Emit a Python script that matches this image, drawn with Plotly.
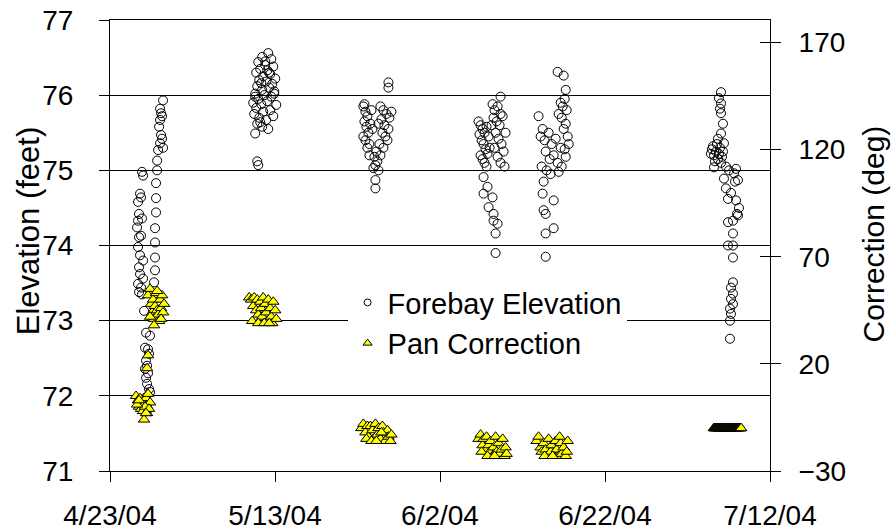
import pandas as pd
import plotly.graph_objects as go

# time axis: elapsed days since the start of the record
START = pd.Timestamp("2004-04-23")
tick_dates = ["2004-04-23", "2004-05-13", "2004-06-02", "2004-06-22", "2004-07-12"]
tick_text = ["4/23/04", "5/13/04", "6/2/04", "6/22/04", "7/12/04"]
pan_ticks = [-30, 20, 70, 120, 170]

# Forebay elevation (feet), one pair of lists per survey
fb1_day = [3.88, 4.01, 3.64, 3.76, 3.40, 3.52, 3.88, 3.40, 3.28, 3.76, 3.52, 3.40, 3.64, 4.01, 3.52, 3.64, 4.01, 3.40, 3.76, 3.52, 3.88,
           4.13, 4.37, 4.85, 4.25, 4.61, 4.73, 4.37, 4.49, 4.25, 4.61, 4.37, 4.49, 4.73, 4.37, 4.49, 4.61, 4.25, 4.85,
           6.43, 6.07, 6.19, 6.31, 6.07, 5.95, 6.19, 6.31, 6.07, 6.43, 5.83, 5.71, 5.71, 5.58, 5.58, 5.58, 5.46, 5.46, 5.46, 5.46, 5.34]
fb1_ft = [74.98, 74.93, 74.69, 74.64, 74.58, 74.42, 74.36, 74.33, 74.24, 74.13, 74.11, 73.98, 73.87, 73.80, 73.71, 73.62, 73.56, 73.49, 73.44, 73.38, 73.35,
          73.13, 72.84, 72.80, 72.64, 72.62, 72.56, 72.47, 72.40, 72.36, 72.30, 72.24, 72.16, 72.09, 71.98, 71.89, 71.82, 71.95, 72.05,
          75.93, 75.82, 75.76, 75.72, 75.67, 75.58, 75.47, 75.42, 75.36, 75.30, 75.27, 75.13, 75.00, 74.83, 74.63, 74.44, 74.23, 74.04, 73.84, 73.67, 73.51]

fb2_day = [19.18, 18.45, 19.55, 17.97, 18.82, 19.79, 18.21, 19.06, 17.72, 19.42, 18.57, 20.03, 18.09, 18.94, 19.67, 17.85,
           19.30, 18.45, 19.91, 17.60, 18.70, 19.55, 17.97, 19.06, 17.36, 18.33, 20.15, 17.72, 19.42, 18.57, 17.48, 19.79,
           18.09, 18.94, 17.85, 18.45, 19.18, 17.60, 18.21, 19.91, 18.82, 19.30, 18.33, 17.60, 17.85, 17.97]
fb2_ft = [76.56, 76.51, 76.48, 76.44, 76.40, 76.38, 76.35, 76.33, 76.30, 76.28, 76.25, 76.22, 76.20, 76.18, 76.15, 76.12,
          76.10, 76.07, 76.05, 76.02, 76.00, 75.98, 75.95, 75.92, 75.90, 75.88, 75.87, 75.83, 75.80, 75.78, 75.75, 75.72,
          75.70, 75.67, 75.62, 75.58, 75.55, 75.49, 75.64, 76.02, 76.45, 76.30, 76.16, 75.98, 75.12, 75.07]

fb3_day = [33.75, 33.75, 30.71, 30.96, 31.20, 30.84, 31.08, 31.32, 30.71, 30.96, 31.44, 31.20, 31.56, 31.69, 30.84, 32.78,
           33.14, 33.51, 32.90, 33.26, 33.75, 33.02, 33.38, 33.87, 34.11, 33.63, 32.66, 33.14, 32.29, 32.05, 32.41, 32.17,
           31.93, 32.54, 32.17, 32.17, 31.81, 32.54, 31.44, 32.78]
fb3_ft = [76.17, 76.10, 75.85, 75.78, 75.72, 75.65, 75.58, 75.50, 75.45, 75.40, 75.35, 75.30, 75.62, 75.80, 75.88, 75.85,
          75.80, 75.75, 75.68, 75.60, 75.55, 75.50, 75.45, 75.70, 75.78, 75.40, 75.35, 75.30, 75.25, 75.18, 75.12, 75.07,
          75.03, 75.00, 74.87, 74.76, 75.55, 75.62, 75.20, 75.20]

fb4_day = [47.34, 44.67, 44.92, 45.16, 44.79, 45.40, 45.64, 45.04, 45.28, 45.52, 45.89, 44.92, 45.16, 45.76, 46.01, 45.40,
           45.64, 46.37, 46.61, 46.98, 47.34, 46.49, 46.86, 47.22, 47.59, 46.74, 47.10, 47.46, 47.71, 46.98, 47.34, 47.83,
           46.25, 46.61, 47.95, 45.28, 45.76, 45.28, 46.37, 45.89, 46.49, 46.49, 46.98, 46.74, 46.74]
fb4_ft = [75.98, 75.65, 75.60, 75.55, 75.48, 75.50, 75.58, 75.40, 75.35, 75.28, 75.45, 75.20, 75.15, 75.22, 75.30, 75.10,
          75.05, 75.88, 75.80, 75.85, 75.75, 75.70, 75.65, 75.60, 75.72, 75.50, 75.42, 75.35, 75.25, 75.18, 75.10, 75.05,
          75.60, 75.30, 75.50, 74.91, 74.78, 74.69, 74.64, 74.51, 74.42, 74.33, 74.29, 74.16, 73.90]

fb5_day = [54.26, 54.99, 55.24, 55.11, 54.63, 54.87, 55.36, 54.38, 54.75, 55.24, 51.95, 52.44, 52.20, 52.68, 53.17, 53.53,
           54.02, 54.63, 54.99, 55.48, 52.81, 53.29, 53.78, 54.26, 54.75, 55.24, 52.32, 52.93, 53.41, 54.38, 55.11, 55.60,
           52.56, 52.44, 53.78, 52.56, 52.81, 53.78, 52.81, 52.81]
fb5_ft = [76.31, 76.26, 76.07, 75.95, 75.90, 75.85, 75.80, 75.75, 75.70, 75.62, 75.72, 75.55, 75.45, 75.40, 75.50, 75.35,
          75.42, 75.30, 75.55, 75.45, 75.25, 75.15, 75.20, 75.10, 75.05, 75.18, 75.05, 75.00, 74.95, 74.98, 75.28, 75.35,
          74.85, 74.69, 74.60, 74.47, 74.42, 74.23, 74.16, 73.85]

fb6_day = [74.06, 73.81, 74.06, 73.94, 74.06, 74.30, 74.06, 73.69, 74.42, 73.21, 75.88, 75.64, 74.42, 76.12, 74.66, 74.91,
           75.88, 76.12, 75.51, 74.91, 75.51, 74.91, 75.51, 75.51, 75.51, 75.27, 75.51, 75.27, 75.51, 75.15, 75.27, 75.15, 75.15,
           72.96, 73.21, 73.45, 73.69, 73.94, 74.18, 72.84, 73.33, 73.57, 74.06, 74.30, 73.09, 73.81,
           74.66, 75.03, 75.76, 75.27, 76.24, 76.00]
fb6_ft = [76.04, 75.96, 75.89, 75.82, 75.76, 75.62, 75.49, 75.42, 75.36, 75.04, 75.02, 74.96, 74.89, 74.87, 74.76, 74.62,
          74.60, 74.40, 74.33, 74.31, 74.16, 74.00, 74.00, 73.84, 73.51, 73.44, 73.36, 73.29, 73.22, 73.16, 73.09, 73.00, 72.76,
          75.28, 75.20, 75.25, 75.15, 75.30, 75.18, 75.22, 75.12, 75.35, 75.10, 75.25, 75.32, 75.22,
          75.05, 75.00, 74.85, 74.70, 74.50, 74.42]

# Pan correction (deg)
pan1_day = [4.61, 4.86, 4.98, 5.10, 5.22, 5.34, 5.46, 5.58, 5.71, 5.83, 5.95, 6.07, 6.19, 6.31, 6.43, 6.56, 4.86, 6.19, 5.34, 5.71,
            4.61, 4.49, 3.16, 3.40, 3.64, 3.88, 3.52, 3.76, 4.13, 4.37, 4.61, 4.86, 4.01, 4.25, 4.49, 3.28, 4.73, 4.13, 4.37, 3.52]
pan1_deg = [52, 55, 48, 44, 50, 41, 47, 53, 45, 43, 40, 50, 46, 52, 44, 48, 42, 41, 38, 54,
            24, 18, 5, 3, 4, 2, 0, -1, 1, 4, 6, 2, -2, 0, -3, 1, -1, -6, -3, 3]

pan2_day = [16.87, 17.11, 17.36, 17.48, 17.72, 17.85, 17.97, 18.21, 18.33, 18.45, 18.57, 18.82, 18.94, 19.06, 19.18, 19.42,
            19.55, 19.67, 19.79, 20.03, 20.15, 17.24, 17.97, 18.70, 19.30]
pan2_deg = [51, 50, 47, 51, 45, 50, 43, 49, 46, 42, 51, 48, 44, 40, 50, 46, 42, 39, 49, 45, 41, 40, 39, 39, 39]

pan3_day = [30.47, 30.71, 30.96, 31.20, 31.32, 31.56, 31.81, 31.93, 32.17, 32.41, 32.54, 32.78, 33.02, 33.14, 33.38, 33.63,
            33.75, 33.99, 34.11, 31.08, 31.69, 32.29, 32.90]
pan3_deg = [-10, -8, -12, -9, -14, -9, -11, -15, -8, -13, -10, -15, -9, -12, -16, -11, -14, -16, -13, -15, -16, -16, -12]

pan4_day = [44.67, 44.92, 45.16, 45.28, 45.52, 45.64, 45.89, 46.01, 46.13, 46.37, 46.49, 46.74, 46.86, 47.10, 47.22, 47.46,
            47.59, 47.83, 47.95, 48.07, 45.04, 45.76, 46.61]
pan4_deg = [-15, -13, -18, -15, -20, -14, -18, -21, -16, -23, -19, -14, -21, -17, -22, -20, -15, -23, -19, -22, -21, -23, -23]

pan5_day = [51.71, 51.95, 52.20, 52.32, 52.56, 52.81, 52.93, 53.17, 53.41, 53.53, 53.78, 54.02, 54.14, 54.38, 54.63, 54.75,
            54.99, 55.24, 55.36, 55.48, 52.68, 53.65, 54.50]
pan5_deg = [-16, -14, -19, -21, -17, -20, -23, -15, -21, -18, -23, -16, -20, -23, -17, -22, -19, -23, -21, -16, -23, -23, -14]

# last survey: hourly readings held at one value
pan6_day = [73.20, 73.25, 73.30, 73.35, 73.40, 73.45, 73.50, 73.55, 73.60, 73.65, 73.70, 73.75, 73.80, 73.85,
            73.90, 73.95, 74.00, 74.05, 74.10, 74.15, 74.20, 74.25, 74.30, 74.35, 74.40, 74.45, 74.50, 74.55,
            74.60, 74.65, 74.70, 74.75, 74.80, 74.85, 74.90, 74.95, 75.00, 75.05, 75.10, 75.15, 75.20, 75.25,
            75.30, 75.35, 75.40, 75.45, 75.50, 75.55, 75.60, 75.65, 75.70, 75.75, 75.80, 75.85, 75.90, 75.95,
            76.00, 76.05, 76.10, 76.15, 76.20, 76.25, 76.30, 76.35, 76.40, 76.45, 76.50]
pan6_deg = [-10] * len(pan6_day)


def to_time(days):
    return START + pd.to_timedelta(pd.Series(days, dtype=float), unit="D")


fb_day = fb1_day + fb2_day + fb3_day + fb4_day + fb5_day + fb6_day
fb_ft = fb1_ft + fb2_ft + fb3_ft + fb4_ft + fb5_ft + fb6_ft
pan_day = pan1_day + pan2_day + pan3_day + pan4_day + pan5_day + pan6_day
pan_deg = pan1_deg + pan2_deg + pan3_deg + pan4_deg + pan5_deg + pan6_deg

FONT = "Liberation Sans, Arial, sans-serif"
circle = dict(symbol="circle-open", color="black", line=dict(width=1))
triangle = dict(symbol="triangle-up", color="#FFFF00", line=dict(color="black", width=1))

fig = go.Figure()

fig.add_trace(go.Scatter(
    x=to_time(fb_day), y=fb_ft, mode="markers", name="Forebay Elevation",
    showlegend=False, marker=dict(size=9, **circle),
))
fig.add_trace(go.Scatter(
    x=to_time(pan_day), y=pan_deg, mode="markers", name="Pan Correction",
    yaxis="y2", showlegend=False, marker=dict(size=10, **triangle),
))
# legend entries drawn with the smaller key symbols
fig.add_trace(go.Scatter(x=[None], y=[None], mode="markers", name="Forebay Elevation",
                         legendgroup="fb", marker=dict(size=7, **circle)))
fig.add_trace(go.Scatter(x=[None], y=[None], mode="markers", name="Pan Correction",
                         legendgroup="pan", marker=dict(size=8, **triangle)))
# carrier for the inward half of the right-hand tick marks
fig.add_trace(go.Scatter(x=[], y=[], yaxis="y3", showlegend=False, hoverinfo="skip"))

# axis titles sit a little above the middle of the plot, as in the original
fig.add_annotation(text="Elevation (feet)", textangle=-90, xref="paper", yref="paper",
                   x=-0.124, y=0.532, xanchor="center", yanchor="middle", showarrow=False,
                   font=dict(family=FONT, size=31, color="black"))
fig.add_annotation(text="Correction (deg)", textangle=-90, xref="paper", yref="paper",
                   x=1.157, y=0.526, xanchor="center", yanchor="middle", showarrow=False,
                   font=dict(family=FONT, size=30, color="black"))

fig.update_layout(
    width=893, height=531,
    margin=dict(l=110, r=123, t=20, b=60),
    paper_bgcolor="white", plot_bgcolor="white",
    font=dict(family=FONT, size=27, color="black"),
    showlegend=True,
    legend=dict(
        x=0.36, y=0.43, xanchor="left", yanchor="top",
        bgcolor="white", borderwidth=0,
        font=dict(family=FONT, size=29, color="black"),
        traceorder="grouped", tracegroupgap=0,
    ),
    xaxis=dict(
        type="date", range=[START, pd.Timestamp("2004-07-12")],
        tickvals=tick_dates, ticktext=tick_text,
        ticks="outside", ticklen=10, tickcolor="black", tickwidth=1,
        showline=True, linecolor="black", linewidth=1, mirror=True,
        showgrid=False, zeroline=False, automargin=False,
        tickfont=dict(size=28), ticklabelstandoff=9, ticklabeloverflow="allow",
    ),
    yaxis=dict(
        range=[71, 77], dtick=1, tick0=71,
        ticks="outside", ticklen=10, tickcolor="black",
        showline=True, linecolor="black", linewidth=1,
        showgrid=True, gridcolor="black", gridwidth=1, zeroline=False,
        automargin=False, ticklabelstandoff=20, ticklabeloverflow="allow",
        tickfont=dict(size=28),
    ),
    yaxis2=dict(
        overlaying="y", side="right", anchor="x",
        range=[-30, 180.5], tickvals=pan_ticks,
        ticks="outside", ticklen=10, tickcolor="black",
        showline=True, linecolor="black", linewidth=1,
        showgrid=False, zeroline=False,
        automargin=False, ticklabelstandoff=12, ticklabeloverflow="allow",
        tickfont=dict(size=28),
    ),
    yaxis3=dict(
        overlaying="y", side="right", anchor="x",
        range=[-30, 180.5], tickvals=pan_ticks,
        ticks="inside", ticklen=10, tickcolor="black",
        showticklabels=False, showline=False, showgrid=False, zeroline=False,
        automargin=False,
    ),
)

# drop the default 8px page margin so the figure fills the window exactly
fig.write_html("out.html", config={"displayModeBar": False},
               post_script="document.body.style.margin = '0';")
